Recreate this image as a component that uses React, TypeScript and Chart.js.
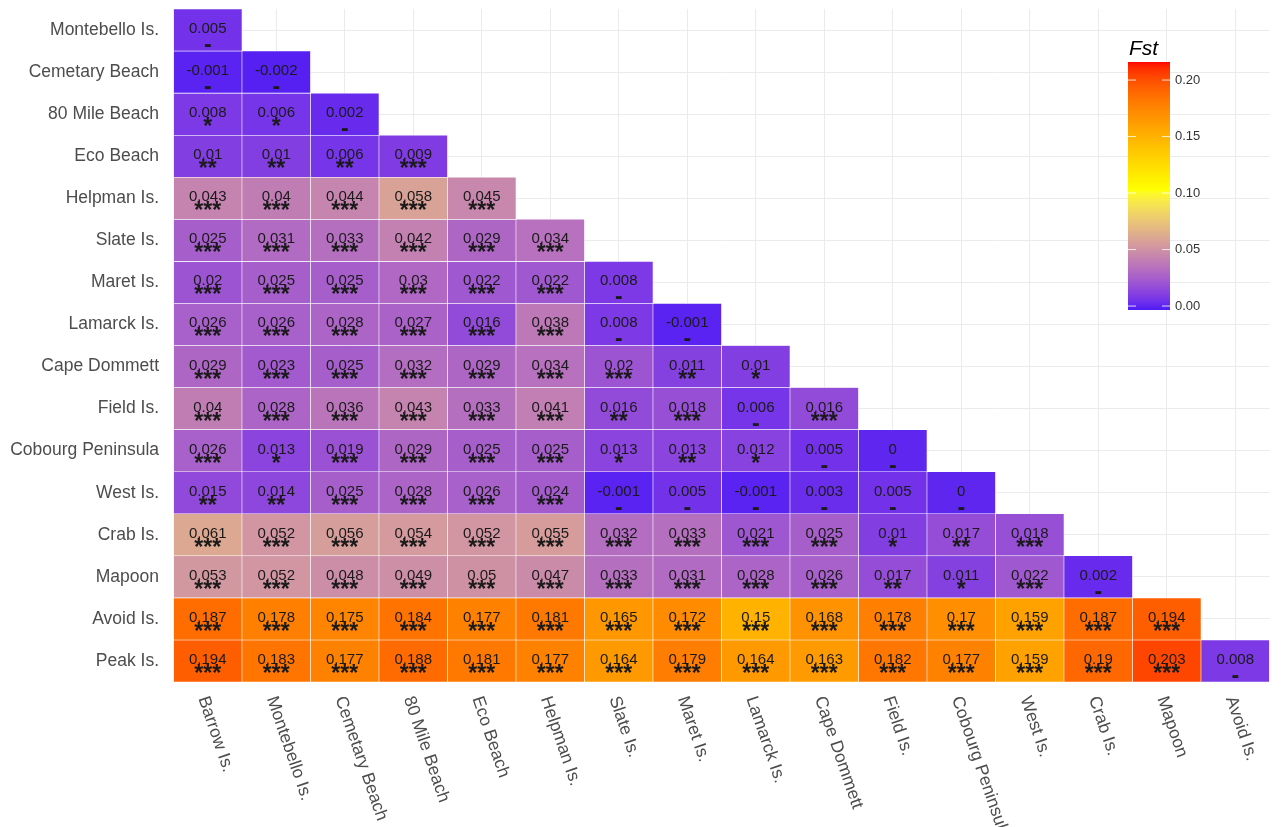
import { useEffect, useRef } from 'react';
import { Chart, registerables } from 'chart.js';

Chart.register(...registerables);

const columns = [
  'Barrow Is.', 'Montebello Is.', 'Cemetary Beach', '80 Mile Beach', 'Eco Beach', 'Helpman Is.',
  'Slate Is.', 'Maret Is.', 'Lamarck Is.', 'Cape Dommett', 'Field Is.', 'Cobourg Peninsula',
  'West Is.', 'Crab Is.', 'Mapoon', 'Avoid Is.',
];

const rows = [
  'Montebello Is.', 'Cemetary Beach', '80 Mile Beach', 'Eco Beach', 'Helpman Is.', 'Slate Is.',
  'Maret Is.', 'Lamarck Is.', 'Cape Dommett', 'Field Is.', 'Cobourg Peninsula', 'West Is.',
  'Crab Is.', 'Mapoon', 'Avoid Is.', 'Peak Is.',
];

const fstMontebello = [0.005];
const fstCemetary = [-0.001, -0.002];
const fst80Mile = [0.008, 0.006, 0.002];
const fstEco = [0.01, 0.01, 0.006, 0.009];
const fstHelpman = [0.043, 0.04, 0.044, 0.058, 0.045];
const fstSlate = [0.025, 0.031, 0.033, 0.042, 0.029, 0.034];
const fstMaret = [0.02, 0.025, 0.025, 0.03, 0.022, 0.022, 0.008];
const fstLamarck = [0.026, 0.026, 0.028, 0.027, 0.016, 0.038, 0.008, -0.001];
const fstCape = [0.029, 0.023, 0.025, 0.032, 0.029, 0.034, 0.02, 0.011, 0.01];
const fstField = [0.04, 0.028, 0.036, 0.043, 0.033, 0.041, 0.016, 0.018, 0.006, 0.016];
const fstCobourg = [0.026, 0.013, 0.019, 0.029, 0.025, 0.025, 0.013, 0.013, 0.012, 0.005, 0];
const fstWest = [0.015, 0.014, 0.025, 0.028, 0.026, 0.024, -0.001, 0.005, -0.001, 0.003, 0.005, 0];
const fstCrab = [0.061, 0.052, 0.056, 0.054, 0.052, 0.055, 0.032, 0.033, 0.021, 0.025, 0.01, 0.017, 0.018];
const fstMapoon = [0.053, 0.052, 0.048, 0.049, 0.05, 0.047, 0.033, 0.031, 0.028, 0.026, 0.017, 0.011, 0.022, 0.002];
const fstAvoid = [0.187, 0.178, 0.175, 0.184, 0.177, 0.181, 0.165, 0.172, 0.15, 0.168, 0.178, 0.17, 0.159, 0.187, 0.194];
const fstPeak = [0.194, 0.183, 0.177, 0.188, 0.181, 0.177, 0.164, 0.179, 0.164, 0.163, 0.182, 0.177, 0.159, 0.19, 0.203, 0.008];

const sigMontebello = ['-'];
const sigCemetary = ['-', '-'];
const sig80Mile = ['*', '*', '-'];
const sigEco = ['**', '**', '**', '***'];
const sigHelpman = ['***', '***', '***', '***', '***'];
const sigSlate = ['***', '***', '***', '***', '***', '***'];
const sigMaret = ['***', '***', '***', '***', '***', '***', '-'];
const sigLamarck = ['***', '***', '***', '***', '***', '***', '-', '-'];
const sigCape = ['***', '***', '***', '***', '***', '***', '***', '**', '*'];
const sigField = ['***', '***', '***', '***', '***', '***', '**', '***', '-', '***'];
const sigCobourg = ['***', '*', '***', '***', '***', '***', '*', '**', '*', '-', '-'];
const sigWest = ['**', '**', '***', '***', '***', '***', '-', '-', '-', '-', '-', '-'];
const sigCrab = ['***', '***', '***', '***', '***', '***', '***', '***', '***', '***', '*', '**', '***'];
const sigMapoon = ['***', '***', '***', '***', '***', '***', '***', '***', '***', '***', '**', '*', '***', '-'];
const sigAvoid = ['***', '***', '***', '***', '***', '***', '***', '***', '***', '***', '***', '***', '***', '***', '***'];
const sigPeak = ['***', '***', '***', '***', '***', '***', '***', '***', '***', '***', '***', '***', '***', '***', '***', '-'];

const fstRows = [
  fstMontebello, fstCemetary, fst80Mile, fstEco, fstHelpman, fstSlate, fstMaret, fstLamarck,
  fstCape, fstField, fstCobourg, fstWest, fstCrab, fstMapoon, fstAvoid, fstPeak,
];
const sigRows = [
  sigMontebello, sigCemetary, sig80Mile, sigEco, sigHelpman, sigSlate, sigMaret, sigLamarck,
  sigCape, sigField, sigCobourg, sigWest, sigCrab, sigMapoon, sigAvoid, sigPeak,
];

const legendTicks = [0, 0.05, 0.1, 0.15, 0.2];
const legendRange = [-0.0035, 0.216];
const colorDomain = [-0.01, 0.216];
const colorStops = ['#0000FF', '#FFFF00', '#FF0000'];

// ---- Lab colour interpolation (like scales::gradient_n_pal) ----
function hexToRgb(h: string) {
  const n = parseInt(h.slice(1), 16);
  return [(n >> 16) & 255, (n >> 8) & 255, n & 255];
}
function toLin(c: number) {
  c /= 255;
  return c <= 0.04045 ? c / 12.92 : Math.pow((c + 0.055) / 1.055, 2.4);
}
function fromLin(c: number) {
  const v = c <= 0.0031308 ? 12.92 * c : 1.055 * Math.pow(Math.max(c, 0), 1 / 2.4) - 0.055;
  return Math.round(Math.max(0, Math.min(1, v)) * 255);
}
function rgbToLab(rgb: number[]) {
  const [r, g, b] = rgb.map(toLin);
  const X = (0.4124564 * r + 0.3575761 * g + 0.1804375 * b) / 0.95047;
  const Y = 0.2126729 * r + 0.7151522 * g + 0.072175 * b;
  const Z = (0.0193339 * r + 0.119192 * g + 0.9503041 * b) / 1.08883;
  const f = (t: number) => (t > 0.008856 ? Math.cbrt(t) : 7.787 * t + 16 / 116);
  const fx = f(X), fy = f(Y), fz = f(Z);
  return [116 * fy - 16, 500 * (fx - fy), 200 * (fy - fz)];
}
function labToRgb(lab: number[]) {
  const [L, a, bb] = lab;
  const fy = (L + 16) / 116;
  const fx = fy + a / 500;
  const fz = fy - bb / 200;
  const finv = (t: number) => (t * t * t > 0.008856 ? t * t * t : (t - 16 / 116) / 7.787);
  const X = finv(fx) * 0.95047, Y = finv(fy), Z = finv(fz) * 1.08883;
  const r = 3.2404542 * X - 1.5371385 * Y - 0.4985314 * Z;
  const g = -0.969266 * X + 1.8760108 * Y + 0.041556 * Z;
  const b = 0.0556434 * X - 0.2040259 * Y + 1.0572252 * Z;
  return [fromLin(r), fromLin(g), fromLin(b)];
}
const labStops = colorStops.map((c) => rgbToLab(hexToRgb(c)));
function fstColor(v: number) {
  let t = (v - colorDomain[0]) / (colorDomain[1] - colorDomain[0]);
  t = Math.max(0, Math.min(1, t));
  const seg = t * (labStops.length - 1);
  const i = Math.min(labStops.length - 2, Math.floor(seg));
  const u = seg - i;
  const lab = labStops[i].map((x, k) => x + (labStops[i + 1][k] - x) * u);
  const [r, g, b] = labToRgb(lab);
  return `rgb(${r},${g},${b})`;
}

const FONT = '"Liberation Sans", Arial, Helvetica, sans-serif';

const labelPlugin = {
  id: 'cellLabels',
  afterDatasetsDraw(chart: any) {
    const ctx = chart.ctx;
    const xs = chart.scales.x;
    const ys = chart.scales.y;
    ctx.save();
    ctx.fillStyle = '#1a1a1a';
    ctx.textAlign = 'center';
    fstRows.forEach((vals, r) => {
      const cy = ys.getPixelForValue(r);
      vals.forEach((v, c) => {
        const cx = xs.getPixelForValue(c);
        ctx.font = `15px ${FONT}`;
        ctx.textBaseline = 'alphabetic';
        ctx.fillText(String(v), cx, cy + 3);
        const s = sigRows[r][c];
        ctx.font = `bold 23px ${FONT}`;
        if (s === '-') ctx.fillText(s, cx, cy + 22);
        else ctx.fillText(s, cx, cy + 20);
      });
    });
    ctx.restore();
  },
  afterDraw(chart: any) {
    const ctx = chart.ctx;
    const xs = chart.scales.x;
    const area = chart.chartArea;
    ctx.save();
    ctx.fillStyle = '#4D4D4D';
    ctx.font = `17.5px ${FONT}`;
    ctx.textAlign = 'left';
    ctx.textBaseline = 'middle';
    columns.forEach((name, c) => {
      const x = xs.getPixelForValue(c);
      ctx.save();
      ctx.translate(x - 5, area.bottom + 15);
      ctx.rotate((71 * Math.PI) / 180);
      ctx.fillText(name, 0, 0);
      ctx.restore();
    });

    // legend (colour bar)
    const barL = 1128, barR = 1170, barT = 62, barB = 310;
    const [vmin, vmax] = legendRange;
    for (let py = barT; py < barB; py++) {
      const v = vmax - ((py + 0.5 - barT) / (barB - barT)) * (vmax - vmin);
      ctx.fillStyle = fstColor(v);
      ctx.fillRect(barL, py, barR - barL, 1);
    }
    ctx.strokeStyle = 'rgba(255,255,255,0.8)';
    ctx.lineWidth = 1;
    ctx.fillStyle = '#333333';
    ctx.font = `13px ${FONT}`;
    ctx.textAlign = 'left';
    ctx.textBaseline = 'middle';
    legendTicks.forEach((t) => {
      const y = barB - ((t - vmin) / (vmax - vmin)) * (barB - barT);
      ctx.beginPath();
      ctx.moveTo(barL, y);
      ctx.lineTo(barL + 8, y);
      ctx.moveTo(barR - 8, y);
      ctx.lineTo(barR, y);
      ctx.stroke();
      ctx.fillText(t.toFixed(2), barR + 5, y);
    });
    ctx.fillStyle = '#000000';
    ctx.font = `italic 21px ${FONT}`;
    ctx.textBaseline = 'alphabetic';
    ctx.fillText('Fst', barL + 1, 55);
    ctx.restore();
  },
};

export default function App() {
  const ref = useRef<HTMLCanvasElement | null>(null);
  useEffect(() => {
    document.body.style.margin = '0';
    const canvas = ref.current;
    if (!canvas) return;
    const datasets = rows.map((rowName, r) => ({
      label: rowName,
      data: columns.map((_, c) => (c < fstRows[r].length ? [r - 0.5, r + 0.5] : null)),
      backgroundColor: columns.map((_, c) =>
        c < fstRows[r].length ? fstColor(fstRows[r][c]) : 'rgba(0,0,0,0)'
      ),
      borderColor: 'rgba(255,255,255,0.85)',
      borderWidth: 0.6,
      borderSkipped: false,
      grouped: false,
      categoryPercentage: 1,
      barPercentage: 1,
    }));
    const chart = new Chart(canvas, {
      type: 'bar',
      data: { labels: columns, datasets: datasets as any },
      options: {
        responsive: false,
        animation: false,
        events: [],
        layout: { padding: { top: 9, right: 14.5, left: 0, bottom: 0 } },
        plugins: { legend: { display: false }, tooltip: { enabled: false } },
        scales: {
          x: {
            type: 'category',
            offset: true,
            grid: { offset: false, color: '#EBEBEB', lineWidth: 1, drawTicks: false },
            border: { display: false },
            ticks: { display: false },
            afterFit: (s: any) => {
              s.height = 145;
              s.paddingLeft = 0;
              s.paddingRight = 0;
            },
          },
          y: {
            type: 'linear',
            reverse: true,
            min: -0.5,
            max: 15.5,
            grid: { color: '#EBEBEB', lineWidth: 1, drawTicks: false },
            border: { display: false },
            afterBuildTicks: (s: any) => {
              s.ticks = rows.map((_, i) => ({ value: i }));
            },
            ticks: {
              autoSkip: false,
              padding: 14.5,
              color: '#4D4D4D',
              font: { family: FONT, size: 17.5 },
              callback: (v: any) => rows[v as number] ?? '',
            },
            afterFit: (s: any) => {
              s.width = 173.5;
              s.paddingTop = 0;
              s.paddingBottom = 0;
            },
          },
        },
      },
      plugins: [labelPlugin],
    });
    return () => chart.destroy();
  }, []);
  return (
    <div style={{ position: 'fixed', left: 0, top: 0, width: 1284, height: 827, background: '#fff' }}>
      <canvas ref={ref} width={1284} height={827} style={{ width: 1284, height: 827, display: 'block' }} />
    </div>
  );
}
